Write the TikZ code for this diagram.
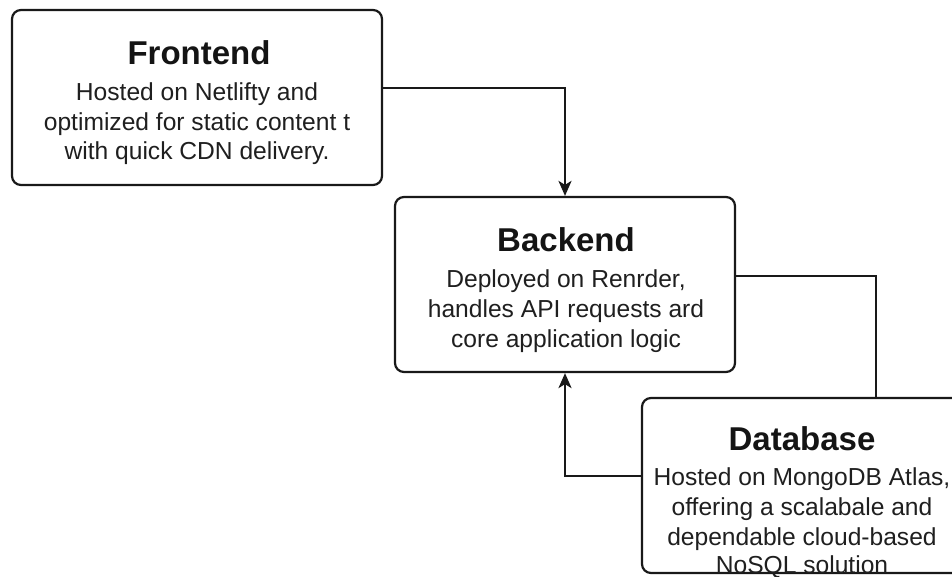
\documentclass[tikz,border=0pt]{standalone}
\usepackage{fontspec}
\setmainfont{Liberation Sans}
\usetikzlibrary{arrows.meta,calc}
\tikzset{
  box/.style={draw=black!90, line width=2.2pt, rounded corners=9pt, inner sep=0pt},
  ttl/.style={font=\fontsize{33}{36}\selectfont\bfseries, anchor=base, inner sep=0pt, text=black!92},
  bdy/.style={font=\fontsize{24.6}{29.5}\selectfont, align=center, anchor=base, inner sep=0pt, text=black!88},
  link/.style={draw=black!90, line width=2.2pt},
  arr/.style={link, -{Stealth[length=15pt,width=13pt,inset=4pt]}}
}
\begin{document}
\begin{tikzpicture}[x=1pt,y=-1pt]
\useasboundingbox (0,0) rectangle (952,577);
\clip (0,0) rectangle (952,577);
\fill[white] (0,0) rectangle (952,577);
% boxes
\node[box, minimum width=370pt, minimum height=175pt] (fe) at (197,97.5) {};
\node[box, minimum width=340pt, minimum height=175pt] (be) at (565,284.5) {};
\node[box, minimum width=320pt, minimum height=175pt] (db) at (802,485.5) {};
% texts
\node[ttl] (fet) at (199,65) {Frontend};
\node[bdy] (feb1) at (197,100.5) {Hosted on Netlifty and};
\node[bdy] (feb2) at (197,130.5) {optimized for static content t};
\node[bdy] (feb3) at (197,159.5) {with quick CDN delivery.};
\node[ttl] (bet) at (566,251.5) {Backend};
\node[bdy] (beb1) at (566,287) {Deployed on Renrder,};
\node[bdy] (beb2) at (566,317) {handles API requests ard};
\node[bdy] (beb3) at (566,347) {core application logic};
\node[ttl] (dbt) at (802,450) {Database};
\node[bdy] (dbb1) at (802,485) {Hosted on MongoDB Atlas,};
\node[bdy] (dbb2) at (802,515) {offering a scalabale and};
\node[bdy] (dbb3) at (802,545) {dependable cloud-based};
\node[bdy] (dbb4) at (802,573) {NoSQL solution};
% connectors
\draw[arr] ([yshift=9.5pt]fe.east) -| (be.north);
\draw[link] ([yshift=8.5pt]be.east) -| ([xshift=74pt]db.north);
\draw[arr] ([yshift=9.5pt]db.west) -| (be.south);
\end{tikzpicture}
\end{document}
